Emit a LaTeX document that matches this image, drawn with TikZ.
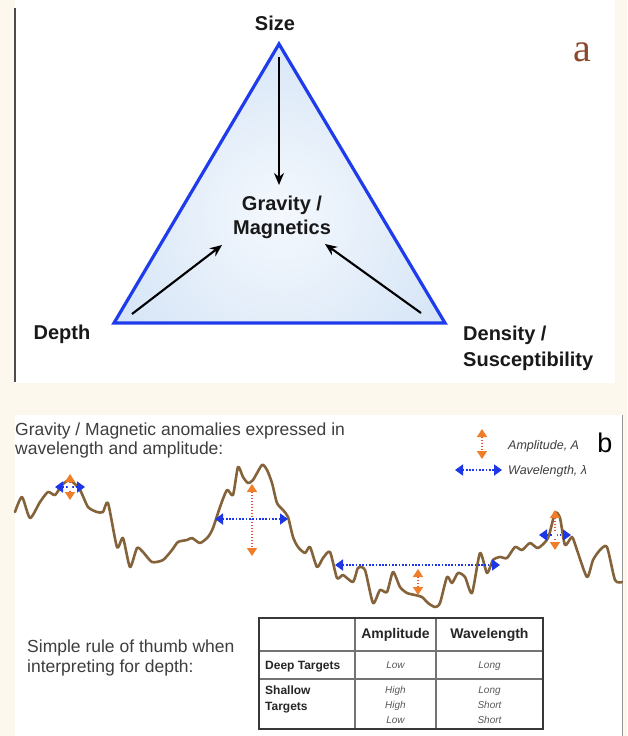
\documentclass[tikz,border=0pt]{standalone}
\usepackage{fontspec}
\setmainfont{Liberation Sans}
\newfontfamily\serifa{Liberation Serif}
\usetikzlibrary{arrows.meta}
\definecolor{cream}{RGB}{252,248,238}
\definecolor{triblue}{RGB}{30,60,235}
\definecolor{trifill}{RGB}{212,228,246}
\definecolor{trilight}{RGB}{244,248,253}
\definecolor{brownc}{RGB}{140,72,42}
\definecolor{curvec}{RGB}{132,98,58}
\definecolor{orangec}{RGB}{240,125,40}
\definecolor{reddot}{RGB}{230,85,60}
\definecolor{bluec}{RGB}{30,55,230}
\definecolor{txtgray}{RGB}{62,62,62}
\tikzset{
 lab/.style={font=\fontsize{20}{24}\selectfont\bfseries, text=black!90, inner sep=0, anchor=base},
 arr/.style={line width=2.1, -{Stealth[length=12,width=10]}},
 tri/.style={draw=triblue, line width=3.2, line join=miter},
 btxt/.style={font=\fontsize{17.5}{20}\selectfont, text=txtgray, inner sep=0, anchor=base west},
 legtxt/.style={font=\fontsize{12.5}{14}\selectfont\itshape, text=txtgray, inner sep=0, anchor=base west},
 amp/.style={draw=reddot, dash pattern=on 1.4pt off 1.6pt, line width=1.5, {Triangle[length=8,width=10,color=orangec]}-{Triangle[length=8,width=10,color=orangec]}},
 wav/.style={draw=bluec, dash pattern=on 1.7pt off 1.6pt, line width=1.8, {Triangle[length=8,width=11,color=bluec]}-{Triangle[length=8,width=11,color=bluec]}},
 curvest/.style={draw=curvec, line width=2.6, line join=round, line cap=round},
 th/.style={font=\fontsize{14}{16}\selectfont\bfseries, text=black!85, inner sep=0, anchor=base},
 rh/.style={font=\fontsize{12}{14}\selectfont\bfseries, text=black!85, inner sep=0, anchor=base west},
 tv/.style={font=\fontsize{10}{12}\selectfont\itshape, text=black!65, inner sep=0, anchor=base},
 tborder/.style={draw=black!78, line width=2},
 tinner/.style={draw=black!55, line width=1.5},
}
\begin{document}
\begin{tikzpicture}[x=1pt,y=-1pt]
\useasboundingbox (0,0) rectangle (627,736);
% backgrounds
\fill[cream] (0,0) rectangle (627,736);
\fill[white] (15,0) rectangle (615,383);
\fill[white] (15,415) rectangle (622,736);
\draw[black!70, line width=1.2] (15,8) -- (15,382);
\draw[black!40, line width=1] (622,415) -- (622,736);

% ---------- panel a ----------
\coordinate (A) at (279,44);
\coordinate (B) at (114,323);
\coordinate (C) at (445,323);
\begin{scope}
\clip (A) -- (B) -- (C) -- cycle;
\shade[inner color=trilight, outer color=trifill] (280,215) circle (200);
\end{scope}
\draw[tri] (A) -- (B) -- (C) -- cycle;

\node[lab] (size) at (275,30) {Size};
\node[lab] (gm1) at (282,210) {Gravity /};
\node[lab] (gm2) at (282,234) {Magnetics};
\node[lab] (depth) at (62,339) {Depth};
\node[lab, anchor=base west] (dens1) at (463,340) {Density /};
\node[lab, anchor=base west] (dens2) at (463,366) {Susceptibility};
\node[text=brownc, font=\serifa\fontsize{40}{42}\selectfont, inner sep=0] (la) at (582,52) {a};

\coordinate (s0) at (279,57);  \coordinate (s1) at (279,185);
\coordinate (d0) at (132,314); \coordinate (d1) at (222,245);
\coordinate (r0) at (421,313); \coordinate (r1) at (325,244);
\draw[arr] (s0) -- (s1);
\draw[arr] (d0) -- (d1);
\draw[arr] (r0) -- (r1);

% ---------- panel b ----------
\node[btxt] (t1) at (15,435) {Gravity / Magnetic anomalies expressed in};
\node[btxt] (t2) at (15,454) {wavelength and amplitude:};
\node[font=\fontsize{27}{30}\selectfont, inner sep=0, anchor=base] (lb) at (605,452) {b};
\node[legtxt] (lamp) at (508,449) {Amplitude, A};
\node[legtxt] (lwav) at (508,474) {Wavelength, λ};

\draw[curvest] plot[smooth, tension=0.4] coordinates {
(15,512) (22,497) (30,518) (40,502) (48,492) (55,495) (62,485) (70,480) (80,490)
(88,507) (97,512) (103,512) (108,503) (117,547) (123,538) (130,567) (137,548)
(143,552) (152,562) (163,560) (172,550) (178,542) (187,540) (192,538) (200,543)
(208,537) (213,528) (220,507) (227,490) (233,495) (238,467) (243,477) (248,483)
(253,480) (262,465) (267,470) (272,483) (277,503) (283,510) (288,517) (293,537)
(298,547) (305,553) (310,547) (317,567) (323,558) (330,552) (337,578) (343,575)
(353,582) (358,568) (365,570) (373,603) (380,590) (387,592) (393,572) (400,587)
(407,593) (415,595) (422,597) (428,603) (435,607) (440,603) (447,577) (452,583)
(458,573) (465,577) (472,593) (480,553) (487,573) (493,560) (500,557) (507,558)
(515,547) (522,550) (530,543) (538,548) (548,538) (555,513) (560,518) (565,545)
(572,537) (577,550) (587,577) (593,560) (600,550) (607,547) (615,580) (622,582)};

% markers
\coordinate (m1t) at (70,474); \coordinate (m1b) at (70,500);
\coordinate (m1l) at (55,487); \coordinate (m1r) at (85,487);
\draw[amp] (m1t) -- (m1b);
\draw[wav] (m1l) -- (m1r);
\fill[white] (70,487) circle (2.4);

\coordinate (m2t) at (252,484); \coordinate (m2b) at (252,556);
\coordinate (m2l) at (215,519); \coordinate (m2r) at (288,519);
\draw[amp] (m2t) -- (m2b);
\draw[wav] (m2l) -- (m2r);

\coordinate (m3l) at (335,565); \coordinate (m3r) at (500,565);
\coordinate (m3t) at (418,569); \coordinate (m3b) at (418,595);
\draw[wav] (m3l) -- (m3r);
\draw[amp] (m3t) -- (m3b);

\coordinate (m4t) at (555,510); \coordinate (m4b) at (555,550);
\coordinate (m4l) at (539,535); \coordinate (m4r) at (571,535);
\draw[amp] (m4t) -- (m4b);
\draw[wav] (m4l) -- (m4r);
\fill[white] (555,535) circle (2.4);

% legend arrows
\coordinate (lat) at (482,429); \coordinate (lab) at (482,459);
\coordinate (lwl) at (455,470); \coordinate (lwr) at (502,470);
\draw[amp] (lat) -- (lab);
\draw[wav] (lwl) -- (lwr);

% rule of thumb text
\node[btxt] (r1) at (27,652) {Simple rule of thumb when};
\node[btxt] (r2) at (27,672) {interpreting for depth:};

% table
\fill[white] (259,618) rectangle (543,729);
\draw[tinner] (355,618) -- (355,729);
\draw[tinner] (436,618) -- (436,729);
\draw[tinner] (259,651) -- (543,651);
\draw[tinner] (259,679) -- (543,679);
\draw[tborder] (259,618) rectangle (543,729);

\node[th] (hA) at (395.5,638) {Amplitude};
\node[th] (hW) at (489.5,638) {Wavelength};
\node[rh] (deep) at (265,669) {Deep Targets};
\node[tv] (dA) at (395.5,668) {Low};
\node[tv] (dW) at (489.5,668) {Long};
\node[rh] (sh1) at (265,694) {Shallow};
\node[rh] (sh2) at (265,710) {Targets};
\node[tv] (sA1) at (395.5,693) {High};
\node[tv] (sA2) at (395.5,708) {High};
\node[tv] (sA3) at (395.5,723) {Low};
\node[tv] (sW1) at (489.5,693) {Long};
\node[tv] (sW2) at (489.5,708) {Short};
\node[tv] (sW3) at (489.5,723) {Short};
\end{tikzpicture}
\end{document}
